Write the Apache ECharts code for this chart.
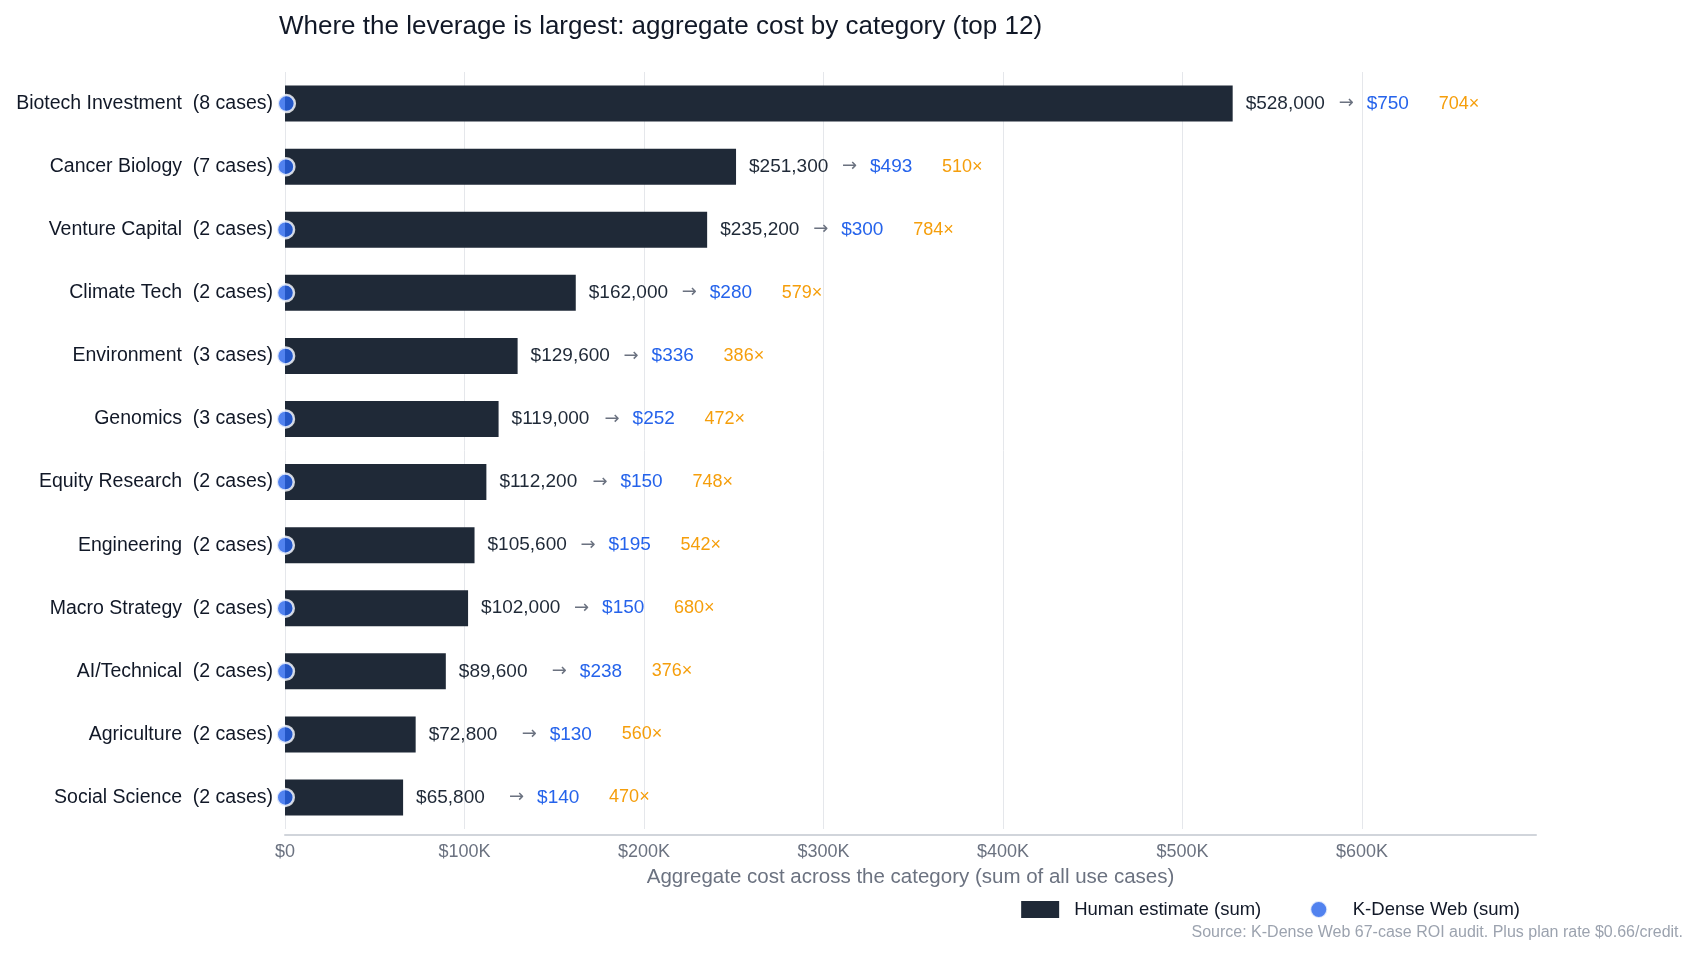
<!DOCTYPE html>
<html>
<head>
<meta charset="utf-8">
<title>Aggregate cost by category</title>
<script src="https://cdn.jsdelivr.net/npm/echarts@6/dist/echarts.min.js"></script>
<style>
    html, body { margin: 0; padding: 0; background: #fff; }
    #main { width: 1693px; height: 953px; }
</style>
</head>
<body>
<div id="main"></div>
<script>
    // top 12 categories, largest first
    var categories = ['Biotech Investment', 'Cancer Biology', 'Venture Capital', 'Climate Tech', 'Environment', 'Genomics',
        'Equity Research', 'Engineering', 'Macro Strategy', 'AI/Technical', 'Agriculture', 'Social Science'];
    var caseCounts = [8, 7, 2, 2, 3, 3, 2, 2, 2, 2, 2, 2];
    var humanCost = [528000, 251300, 235200, 162000, 129600, 119000, 112200, 105600, 102000, 89600, 72800, 65800];
    var kdenseCost = [750, 493, 300, 280, 336, 252, 150, 195, 150, 238, 130, 140];
    var multiples = [704, 510, 784, 579, 386, 472, 748, 542, 680, 376, 560, 470];
    var xTicks = [0, 100000, 200000, 300000, 400000, 500000, 600000];

    var FONT = '"Liberation Sans", Arial, sans-serif';

    function money(v) {
        return '$' + v.toLocaleString('en-US');
    }

    var yLabels = categories.map(function (c, i) {
        return c + '  (' + caseCounts[i] + ' cases)';
    });

    var dots = kdenseCost.map(function (v, i) {
        return [v, i];
    });

    var myChart = echarts.init(document.getElementById('main'));
    myChart.setOption({
        textStyle: { fontFamily: FONT },
        title: [{
            text: 'Where the leverage is largest: aggregate cost by category (top 12)',
            left: 274,
            top: 9,
            textStyle: { fontFamily: FONT, fontSize: 26, fontWeight: 'normal', color: '#111827' }
        }, {
            text: 'Source: K-Dense Web 67-case ROI audit. Plus plan rate $0.66/credit.',
            right: 5,
            top: 920,
            textStyle: { fontFamily: FONT, fontSize: 16, fontWeight: 'normal', color: '#9ca3af' }
        }],
        legend: {
            right: 168,
            top: 895,
            itemWidth: 38,
            itemHeight: 17,
            itemGap: 48,
            textStyle: { fontFamily: FONT, fontSize: 18.5, color: '#111827', padding: [0, 0, 0, 10] },
            data: [
                { name: 'Human estimate (sum)', icon: 'rect' },
                { name: 'K-Dense Web (sum)', icon: 'circle' }
            ]
        },
        grid: {
            left: 285,
            right: 157,
            top: 72,
            bottom: 124
        },
        xAxis: {
            type: 'value',
            min: 0,
            max: 697000,
            interval: 100000,
            offset: 6,
            name: 'Aggregate cost across the category (sum of all use cases)',
            nameLocation: 'middle',
            nameGap: 32,
            nameTextStyle: { fontFamily: FONT, fontSize: 20.5, color: '#6b7280' },
            axisLine: { show: true, lineStyle: { color: '#d1d5db', width: 2 } },
            axisTick: { show: false },
            axisLabel: {
                fontFamily: FONT,
                fontSize: 18,
                color: '#6b7280',
                margin: 8,
                showMaxLabel: false,
                formatter: function (v) {
                    if (xTicks.indexOf(v) < 0) return '';
                    return v === 0 ? '$0' : '$' + (v / 1000) + 'K';
                }
            },
            splitLine: {
                show: true,
                showMaxLine: false,
                lineStyle: { color: '#e5e7eb', width: 1 }
            }
        },
        yAxis: {
            type: 'category',
            inverse: true,
            data: yLabels,
            axisLine: { show: false },
            axisTick: { show: false },
            axisLabel: { fontFamily: FONT, fontSize: 19.5, color: '#111827', margin: 12 }
        },
        series: [
            {
                name: 'Human estimate (sum)',
                type: 'bar',
                data: humanCost,
                barWidth: 36,
                itemStyle: { color: '#1f2937' },
                label: {
                    show: true,
                    position: 'right',
                    distance: 13,
                    formatter: function (p) {
                        var i = p.dataIndex;
                        return '{h|' + money(humanCost[i]) + '}{a|→}{b|' + money(kdenseCost[i]) + '}{m|' + multiples[i] + '×}';
                    },
                    rich: {
                        h: { fontFamily: FONT, fontSize: 19, color: '#1f2937', width: 93 },
                        a: { fontFamily: '"DejaVu Sans", sans-serif', fontSize: 18, color: '#6b7280', width: 28 },
                        b: { fontFamily: FONT, fontSize: 19, color: '#2563eb', width: 72 },
                        m: { fontFamily: FONT, fontSize: 18, color: '#f59e0b' }
                    }
                },
                z: 2
            },
            {
                name: 'K-Dense Web (sum)',
                type: 'scatter',
                data: dots,
                symbol: 'circle',
                symbolSize: 17,
                itemStyle: { color: '#2563eb', borderColor: '#ffffff', borderWidth: 2.5 },
                z: 5
            }
        ]
    });
</script>
</body>
</html>
